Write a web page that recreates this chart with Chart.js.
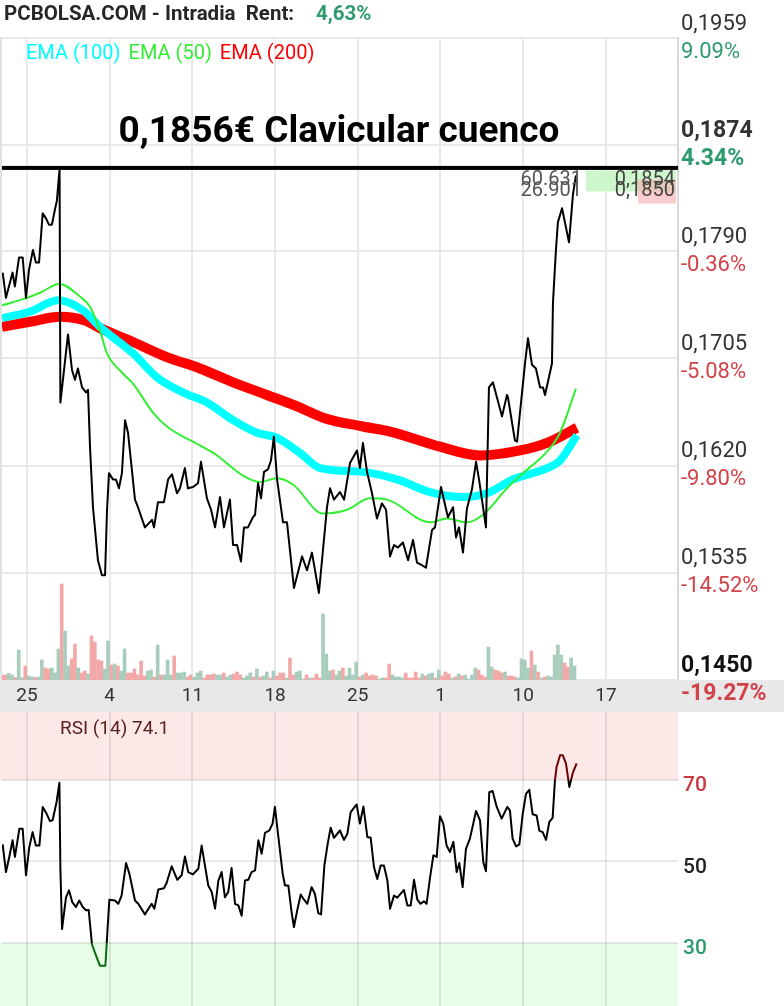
<!DOCTYPE html>
<html>
<head>
<meta charset="utf-8">
<script src="https://cdn.jsdelivr.net/npm/chart.js@4.4.1/dist/chart.umd.min.js"></script>
<style>
  body { margin: 0; background: #fff; width: 784px; height: 1006px; overflow: hidden; position: relative; }
  #main { position: absolute; left: 0; top: 0; }
  #rsi { position: absolute; left: 0; top: 712px; }
</style>
</head>
<body>
<canvas id="main" width="784" height="712"></canvas>
<canvas id="rsi" width="784" height="294"></canvas>
<script>
/* PCBOLSA intradia chart: price + EMAs + volume, RSI below. */

// x axis: sessions, 0 = first "25" mark
const xTicks = [0, 5, 10, 15, 20, 25, 30, 35];
const xLabels = ['25', '4', '11', '18', '25', '1', '10', '17'];

const priceTicks = [0.1450, 0.1535, 0.1620, 0.1705, 0.1790, 0.1874, 0.1959];
const priceLabels = ['0,1450', '0,1535', '0,1620', '0,1705', '0,1790', '0,1874', '0,1959'];
const pctLabels = ['-19.27%', '-14.52%', '-9.80%', '-5.08%', '-0.36%', '4.34%', '9.09%'];

const priceT = [-1.47, -1.27, -0.87, -0.73, -0.48, -0.26, -0.06, 0.12, 0.36, 0.54,
  0.73, 0.95, 1.15, 1.33, 1.51, 1.69, 1.81, 1.97, 2.02, 2.48,
  2.72, 2.90, 3.08, 3.33, 3.57, 3.69, 3.81, 3.99, 4.29, 4.53,
  4.72, 4.84, 4.96, 5.20, 5.38, 5.56, 5.74, 5.93, 6.11, 6.53,
  6.71, 7.13, 7.56, 7.68, 7.92, 8.28, 8.53, 8.77, 9.07, 9.25,
  9.55, 9.73, 10.04, 10.34, 10.52, 10.88, 11.13, 11.37, 11.67, 11.91,
  12.27, 12.46, 12.70, 12.94, 13.12, 13.36, 13.66, 13.79, 13.97, 14.15,
  14.33, 14.57, 14.75, 14.93, 15.12, 15.48, 15.72, 16.14, 16.63, 16.93,
  17.23, 17.65, 18.14, 18.32, 18.56, 18.92, 19.17, 19.53, 19.95, 20.13,
  20.31, 20.56, 20.86, 21.16, 21.46, 21.71, 21.95, 22.19, 22.43, 22.73,
  23.04, 23.34, 23.58, 23.88, 24.12, 24.49, 24.67, 25.03, 25.45, 25.76,
  25.94, 26.12, 26.36, 26.60, 26.90, 27.15, 27.33, 27.75, 27.93, 28.17,
  28.72, 29.02, 29.08, 29.50, 29.63, 30.11, 30.29, 30.53, 30.77, 31.02,
  31.20, 31.32, 31.74, 31.80, 31.98, 32.10, 32.35, 32.77, 33.01, 33.19];
const priceV = [0.1773, 0.1753, 0.1773, 0.1762, 0.1785, 0.1785, 0.1753, 0.1775, 0.1791, 0.1781,
  0.1781, 0.1820, 0.1816, 0.1811, 0.1811, 0.1823, 0.1830, 0.1855, 0.1670, 0.1724,
  0.1696, 0.1688, 0.1697, 0.1682, 0.1678, 0.1680, 0.1635, 0.1587, 0.1545, 0.1533,
  0.1533, 0.1585, 0.1614, 0.1609, 0.1609, 0.1602, 0.1614, 0.1656, 0.1646, 0.1593,
  0.1587, 0.1571, 0.1577, 0.1571, 0.1591, 0.1591, 0.1609, 0.1613, 0.1598, 0.1602,
  0.1618, 0.1602, 0.1603, 0.1606, 0.1623, 0.1594, 0.1585, 0.1571, 0.1595, 0.1571,
  0.1593, 0.1557, 0.1557, 0.1544, 0.1571, 0.1571, 0.1579, 0.1581, 0.1606, 0.1594,
  0.1615, 0.1617, 0.1624, 0.1643, 0.1609, 0.1575, 0.1575, 0.1523, 0.1548, 0.1537,
  0.1551, 0.1519, 0.1587, 0.1602, 0.1593, 0.1599, 0.1593, 0.1622, 0.1632, 0.1618,
  0.1638, 0.1615, 0.1598, 0.1578, 0.1590, 0.1585, 0.1548, 0.1557, 0.1555, 0.1559,
  0.1545, 0.1561, 0.1543, 0.1541, 0.1539, 0.1569, 0.1571, 0.1603, 0.1579, 0.1587,
  0.1563, 0.1571, 0.1551, 0.1586, 0.1601, 0.1623, 0.1609, 0.1571, 0.1682, 0.1686,
  0.1659, 0.1676, 0.1674, 0.1640, 0.1639, 0.1701, 0.1721, 0.1700, 0.1697, 0.1682,
  0.1682, 0.1676, 0.1701, 0.1749, 0.1791, 0.1813, 0.1824, 0.1797, 0.1835, 0.1850];

const ema50T = [-1.51, 0, 0.79, 1.94, 3.20, 3.81, 4.41, 4.84, 5.80, 6.41, 7.62, 8.46, 10.46, 11.49, 13.06, 14.09,
  15.12, 16.08, 17.90, 19.35, 20.74, 21.77, 24.37, 25.39, 26.60, 27.57, 29.02, 29.99, 31.44, 32.23, 33.19];
const ema50V = [0.1747, 0.1753, 0.1757, 0.1764, 0.1754, 0.1746, 0.1727, 0.1709, 0.1693, 0.1685, 0.1662, 0.1651, 0.1636, 0.1628, 0.1612, 0.1607,
  0.1610, 0.1605, 0.1582, 0.1585, 0.1594, 0.1593, 0.1575, 0.1578, 0.1575, 0.1581, 0.1602, 0.1614, 0.1631, 0.1646, 0.1681];

const ema100T = [-1.51, 0.18, 1.87, 3.39, 4.41, 6.41, 7.86, 9.43, 10.88, 12.46, 13.91, 15.12,
  16.51, 17.72, 20.31, 22.37, 24.37, 26.36, 27.81, 29.38, 31.44, 32.23, 33.25];
const ema100V = [0.1737, 0.1742, 0.1751, 0.1743, 0.1730, 0.1709, 0.1690, 0.1678, 0.1670, 0.1656, 0.1646, 0.1642,
  0.1630, 0.1618, 0.1615, 0.1609, 0.1599, 0.1595, 0.1598, 0.1609, 0.1618, 0.1624, 0.1644];

const ema200T = [-1.51, 0.18, 2.00, 3.51, 4.41, 6.41, 8.46, 10.46, 12.46, 14.51, 16.51, 17.90,
  20.31, 21.95, 24.97, 27.39, 29.81, 31.44, 33.25];
const ema200V = [0.1730, 0.1734, 0.1738, 0.1735, 0.1729, 0.1718, 0.1706, 0.1697, 0.1686, 0.1676, 0.1666, 0.1658,
  0.1651, 0.1647, 0.1635, 0.1628, 0.1632, 0.1638, 0.1650];

// volume: 5 bars per session, first bar at -1.5
const volStart = -1.5, volStep = 0.2;
const volume = [15, 15, 20, 15, 7, 90, 7, 42,
  12, 9, 7, 9, 60, 36, 33, 36, 21, 93, 288, 147, 42, 63, 108, 36, 21, 27, 18, 132, 114, 60, 57, 33, 117,
  45, 48, 42, 27, 93, 21, 21, 33, 15, 57, 12, 27, 30, 9, 105, 15, 15, 60, 15, 72, 21, 21, 24, 9, 15,
  9, 21, 27, 6, 15, 15, 18, 15, 15, 21, 9, 15, 18, 24, 15, 6, 12, 21, 9, 33, 9, 12, 24, 6, 27,
  12, 21, 21, 6, 66, 15,
  24, 27, 3, 15, 6, 6, 18, 6, 198, 78, 27, 30, 15, 27, 36, 12, 36, 15, 54, 9, 15, 21, 12, 15, 12,
  3, 6, 6, 48, 15, 9, 9, 6, 21, 6, 6, 24, 6, 18, 12, 18, 21, 6, 30, 12, 24, 18, 6, 9, 18, 12, 15,
  3, 15, 36, 30, 15, 9, 99, 39, 30, 27, 21, 24, 12, 12, 9, 6, 63, 60, 36, 87, 45, 24, 6, 9, 12, 9,
  75, 105, 75, 51, 39, 66, 42];
const volUp = [0, 0, 1, 1, 0, 1, 1, 0,
  1, 1, 0, 1, 1, 0, 0, 1, 1, 1, 0, 1, 1, 0, 0, 1, 0, 0, 1, 0, 0, 0, 0, 1, 1,
  0, 1, 0, 1, 1, 0, 0, 0, 0, 0, 0, 1, 1, 0, 1, 0, 1, 1, 1, 0, 1, 1, 1, 0, 0,
  1, 1, 1, 0, 0, 0, 0, 1, 1, 0, 1, 1, 0, 0, 0, 1, 1, 1, 0, 1, 0, 1, 1, 0, 1,
  0, 0, 0, 1, 0, 0,
  1, 1, 1, 0, 1, 0, 0, 0, 1, 1, 1, 0, 1, 1, 0, 1, 1, 1, 1, 0, 1, 0, 0, 0, 0,
  1, 1, 0, 0, 1, 1, 1, 1, 0, 0, 0, 0, 0, 1, 0, 1, 1, 0, 1, 0, 0, 0, 1, 0, 1, 0, 1,
  1, 1, 1, 0, 0, 0, 1, 1, 0, 0, 0, 1, 0, 0, 0, 1, 1, 1, 1, 0, 1, 0, 1, 0, 1, 1,
  1, 1, 1, 0, 0, 1, 1];
const volAxisMax = 1926;

const markPrice = 0.1856;
const markText = '0,1856€ Clavicular cuenco';
const lastHigh = 0.1854, lastClose = 0.1850;
const sideNums = ['60.631', '26.901'];
const rent = '4,63%';

const rsiT = [-1.47, -1.27, -1.07, -0.87, -0.73, -0.46, -0.26, -0.06, 0.14, 0.34,
  0.54, 0.75, 0.95, 1.19, 1.39, 1.55, 1.79, 1.96, 2.02, 2.12,
  2.36, 2.54, 2.74, 2.96, 3.16, 3.37, 3.57, 3.73, 3.93, 4.21,
  4.41, 4.74, 4.82, 4.86, 4.98, 5.32, 5.52, 5.72, 5.99, 6.19,
  6.53, 6.73, 7.13, 7.54, 7.70, 7.94, 8.28, 8.44, 8.75, 9.09,
  9.35, 9.55, 9.75, 10.02, 10.36, 10.56, 10.96, 11.17, 11.37, 11.57,
  11.77, 11.97, 12.17, 12.37, 12.58, 12.78, 12.98, 13.18, 13.38, 13.58,
  13.79, 13.99, 14.19, 14.39, 14.65, 14.85, 14.99, 15.20, 15.46, 15.60,
  15.80, 16.00, 16.14,
  16.34, 16.55, 16.75, 16.95, 17.21, 17.41, 17.61, 17.78, 17.98, 18.18,
  18.36, 18.56, 18.92, 19.17, 19.37, 19.57, 19.93, 20.13, 20.34, 20.58,
  20.78, 20.98, 21.18, 21.38, 21.58, 21.79, 21.95, 22.19, 22.39, 22.79,
  23.00, 23.20, 23.40, 23.60, 23.80, 24.00, 24.16, 24.37, 24.57, 24.77,
  24.97, 25.17, 25.37, 25.57, 25.78, 25.98, 26.14, 26.34, 26.54, 26.78,
  27.15, 27.39, 27.59, 27.75, 27.95, 28.15, 28.40, 28.70, 29.04, 29.20,
  29.36, 29.57, 29.77, 29.97, 30.17, 30.37, 30.57, 30.81, 30.98, 31.18,
  31.38, 31.58, 31.78, 31.92, 32.02, 32.23, 32.39, 32.59, 32.79, 32.99, 33.23];
const rsiV = [54.2, 47.4, 51.1, 55.2, 51.1, 58.0, 58.0, 46.6, 53.5, 57.2,
  53.9, 53.9, 63.4, 61.7, 59.9, 60.1, 64.6, 69.3, 48.2, 33.4,
  41.2, 42.9, 40.0, 38.8, 40.4, 38.8, 38.0, 38.1, 29.6, 26.5,
  24.4, 24.4, 29.8, 32.6, 40.6, 40.4, 39.6, 41.6, 49.6, 47.0,
  40.4, 39.6, 37.0, 39.6, 38.4, 43.1, 43.4, 44.7, 48.8, 45.5,
  46.6, 51.2, 47.4, 46.8, 48.2, 53.9, 44.1, 42.5, 38.4, 45.3,
  47.4, 41.2, 42.5, 48.4, 39.6, 39.2, 36.7, 45.3, 45.5, 47.4,
  47.8, 55.2, 51.9, 57.0, 57.6, 59.3, 63.4, 56.0, 47.0, 44.1,
  44.1, 37.5, 33.9,
  38.0, 41.9, 40.6, 39.6, 43.7, 42.0, 37.3, 37.0, 49.0, 54.3,
  58.3, 55.8, 57.6, 55.3, 56.8, 62.1, 64.0, 59.3, 63.5, 56.0,
  55.8, 48.6, 45.7, 49.0, 49.0, 45.3, 38.4, 41.6, 41.1, 43.0,
  39.2, 39.2, 45.5, 40.6, 39.6, 40.2, 39.6, 46.1, 51.5, 51.1,
  61.1, 59.3, 53.9, 52.3, 54.8, 47.4, 49.6, 43.7, 53.1, 55.6,
  62.4, 60.1, 49.8, 47.6, 67.0, 67.3, 63.4, 60.5, 63.4, 62.5,
  55.6, 53.7, 54.2, 61.6, 66.6, 67.6, 61.6, 61.3, 57.5, 57.2,
  55.3, 59.7, 60.7, 69.9, 73.2, 76.1, 76.1, 74.0, 68.3, 71.6, 74.1];
const rsiLevels = [30, 50, 70];
const rsiLast = '74.1';

const X_MIN = -1.51, X_MAX = 39.36;
const GREEN = '#2e9b6e', RED = '#d2424a';

Chart.defaults.font.family = 'Roboto';

const pts = (ts, vs) => ts.map((t, i) => ({ x: t, y: vs[i] }));
const setTicks = (vals) => (s) => { s.ticks = vals.map((v) => ({ value: v })); };

function priceFmt(v) { return v.toFixed(4).replace('.', ','); }

const mainDecor = {
    id: 'mainDecor',
    beforeDraw(chart) {
        const c = chart.ctx, a = chart.chartArea;
        c.save();
        c.fillStyle = '#e8e8e8';
        c.fillRect(0, a.bottom, chart.width, chart.height - a.bottom);
        c.restore();
    },
    afterDraw(chart) {
        const c = chart.ctx, a = chart.chartArea, y = chart.scales.y;
        c.save();
        c.textBaseline = 'middle';

        // left frame
        c.fillStyle = '#e2e2e2';
        c.fillRect(0, a.top - 1, 2, a.bottom - a.top + 1);

        // header
        c.textAlign = 'left';
        c.font = 'bold 20.5px Roboto';
        c.fillStyle = '#262626';
        c.fillText('PCBOLSA.COM - Intradia  Rent:', 4, 15);
        c.fillStyle = GREEN;
        c.fillText(rent, 316, 15);

        // legend
        c.font = '20px Roboto';
        let lx = 26;
        [['EMA (100)', '#00ffff'], ['EMA (50)', '#33ee33'], ['EMA (200)', '#ff0000']].forEach(([t, col]) => {
            c.fillStyle = col;
            c.fillText(t, lx, 54);
            lx += c.measureText(t).width + 8;
        });

        // marker line + title
        const ym = y.getPixelForValue(markPrice);
        c.fillStyle = '#000';
        c.fillRect(a.left, ym - 2, a.right - a.left, 4);
        c.textAlign = 'center';
        c.font = 'bold 37px Roboto';
        c.fillText(markText, 339, ym - 35);

        // last value boxes
        const yh = y.getPixelForValue(lastHigh), yl = y.getPixelForValue(lastClose);
        c.fillStyle = '#cdf6cd';
        c.fillRect(a.right - 92, yh, 90, 21);
        c.fillStyle = 'rgba(246,170,170,0.6)';
        c.fillRect(a.right - 40, yl + 4, 38, 24);
        c.font = '20px Roboto';
        c.textAlign = 'right';
        c.fillStyle = '#444';
        c.fillText(priceFmt(lastHigh), a.right - 3, yh + 10);
        c.fillText(priceFmt(lastClose), a.right - 3, yl + 16);
        c.fillStyle = '#555';
        c.fillText(sideNums[0], 582, yh + 10);
        c.fillText(sideNums[1], 582, yl + 16);

        // right axis labels
        c.textAlign = 'left';
        priceTicks.forEach((v, i) => {
            const py = y.getPixelForValue(v);
            const strong = i === 0 || i === 5;
            c.font = (strong ? 'bold 23px' : '22px') + ' Roboto';
            c.fillStyle = i === 0 ? '#111' : '#333';
            c.fillText(priceLabels[i], 681, py - 14);
            c.fillStyle = pctLabels[i].startsWith('-') ? RED : GREEN;
            c.fillText(pctLabels[i], 681, py + 14);
        });
        c.restore();
    },
};

new Chart(document.getElementById('main'), {
    type: 'line',
    data: {
        datasets: [
            { label: 'Precio', data: pts(priceT, priceV), borderColor: '#000', borderWidth: 2, order: 0 },
            { label: 'EMA (50)', data: pts(ema50T, ema50V), borderColor: '#33ee33', borderWidth: 2,
              cubicInterpolationMode: 'monotone', order: 1 },
            { label: 'EMA (100)', data: pts(ema100T, ema100V), borderColor: '#00ffff', borderWidth: 8,
              cubicInterpolationMode: 'monotone', order: 2 },
            { label: 'EMA (200)', data: pts(ema200T, ema200V), borderColor: '#ff0000', borderWidth: 10,
              cubicInterpolationMode: 'monotone', order: 3 },
            { type: 'bar', label: 'Volumen', yAxisID: 'yVol', order: 4,
              data: volume.map((v, i) => ({ x: volStart + i * volStep, y: v })),
              backgroundColor: volUp.map((u) => (u ? '#a9cdbd' : '#f3a8a8')),
              barThickness: 3 },
        ],
    },
    options: {
        responsive: false,
        animation: false,
        events: [],
        layout: { padding: { top: 38, left: 2, right: 0, bottom: 0 } },
        elements: { point: { radius: 0 }, line: { borderJoinStyle: 'round', tension: 0 } },
        plugins: { legend: { display: false }, tooltip: { enabled: false } },
        scales: {
            x: {
                type: 'linear', min: X_MIN, max: X_MAX, offset: false,
                afterBuildTicks: setTicks(xTicks),
                afterFit: (s) => { s.height = 32; },
                grid: { color: '#e9e9e9', lineWidth: 2, drawTicks: false, offset: false },
                border: { display: false },
                ticks: { autoSkip: false, maxRotation: 0, padding: 5, color: '#333',
                         font: { size: 19 }, callback: (v, i) => xLabels[i] },
            },
            y: {
                position: 'right', min: 0.1450, max: 0.1959,
                afterBuildTicks: setTicks(priceTicks),
                afterFit: (s) => { s.width = 106; },
                grid: { color: '#e9e9e9', lineWidth: 2, drawTicks: false },
                border: { display: true, color: '#d8d8d8', width: 2 },
                ticks: { display: false },
            },
            yVol: { display: false, min: 0, max: volAxisMax },
        },
    },
    plugins: [mainDecor],
});

const rsiDecor = {
    id: 'rsiDecor',
    beforeDraw(chart) {
        const c = chart.ctx, a = chart.chartArea, y = chart.scales.y;
        const y70 = y.getPixelForValue(70), y30 = y.getPixelForValue(30);
        c.save();
        c.fillStyle = '#fde8e8';
        c.fillRect(a.left - 2, a.top, a.right - a.left + 2, y70 - a.top);
        c.fillStyle = '#e7fde7';
        c.fillRect(a.left - 2, y30, a.right - a.left + 2, a.bottom - y30);
        c.restore();
    },
    afterDraw(chart) {
        const c = chart.ctx, y = chart.scales.y;
        c.save();
        c.textBaseline = 'middle';
        c.textAlign = 'left';
        c.font = '19px Roboto';
        c.fillStyle = '#5a1e1e';
        c.fillText('RSI (14) ' + rsiLast, 60, 17);
        const cols = { 30: GREEN, 50: '#222', 70: '#c8383f' };
        c.font = '500 21px Roboto';
        rsiLevels.forEach((lv) => {
            c.fillStyle = cols[lv];
            c.fillText(String(lv), 683, y.getPixelForValue(lv) + 6);
        });
        c.restore();
    },
};

function rsiColor(ctx) {
    const ch = ctx.chart, a = ch.chartArea;
    if (!a) return '#000';
    const y = ch.scales.y;
    const f = (p) => Math.min(1, Math.max(0, (p - a.top) / (a.bottom - a.top)));
    const s70 = f(y.getPixelForValue(70)), s30 = f(y.getPixelForValue(30));
    const g = ch.ctx.createLinearGradient(0, a.top, 0, a.bottom);
    g.addColorStop(0, '#6e0000');
    g.addColorStop(s70, '#6e0000');
    g.addColorStop(s70, '#000');
    g.addColorStop(s30, '#000');
    g.addColorStop(s30, '#0b6a0b');
    g.addColorStop(1, '#0b6a0b');
    return g;
}

new Chart(document.getElementById('rsi'), {
    type: 'line',
    data: {
        datasets: [{ label: 'RSI (14)', data: pts(rsiT, rsiV), borderColor: rsiColor, borderWidth: 2 }],
    },
    options: {
        responsive: false,
        animation: false,
        events: [],
        layout: { padding: { top: 0, left: 2, right: 0, bottom: 0 } },
        elements: { point: { radius: 0 }, line: { borderJoinStyle: 'round', tension: 0 } },
        plugins: { legend: { display: false }, tooltip: { enabled: false } },
        scales: {
            x: {
                type: 'linear', min: X_MIN, max: X_MAX, offset: false,
                afterBuildTicks: setTicks(xTicks),
                afterFit: (s) => { s.height = 0; },
                grid: { color: 'rgba(0,0,0,0.085)', lineWidth: 2, drawTicks: false },
                border: { display: false },
                ticks: { display: false },
            },
            y: {
                position: 'right', min: 14.5, max: 86.7,
                afterBuildTicks: setTicks(rsiLevels),
                afterFit: (s) => { s.width = 106; },
                grid: { color: 'rgba(0,0,0,0.085)', lineWidth: 2, drawTicks: false },
                border: { display: false },
                ticks: { display: false },
            },
        },
    },
    plugins: [rsiDecor],
});
</script>
</body>
</html>
